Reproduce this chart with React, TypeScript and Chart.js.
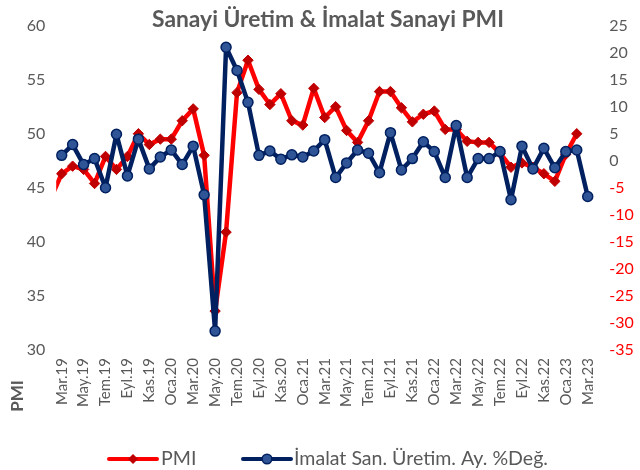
import React, { useEffect, useRef } from 'react';
import { Chart, registerables } from 'chart.js';

Chart.register(...registerables);

// Categories (first one only feeds the clipped PMI stub at the left edge)
const months: string[] = [
  'Şub.19', 'Mar.19', 'Nis.19', 'May.19', 'Haz.19', 'Tem.19', 'Ağu.19', 'Eyl.19', 'Eki.19', 'Kas.19', 'Ara.19',
  'Oca.20', 'Şub.20', 'Mar.20', 'Nis.20', 'May.20', 'Haz.20', 'Tem.20', 'Ağu.20', 'Eyl.20', 'Eki.20', 'Kas.20', 'Ara.20',
  'Oca.21', 'Şub.21', 'Mar.21', 'Nis.21', 'May.21', 'Haz.21', 'Tem.21', 'Ağu.21', 'Eyl.21', 'Eki.21', 'Kas.21', 'Ara.21',
  'Oca.22', 'Şub.22', 'Mar.22', 'Nis.22', 'May.22', 'Haz.22', 'Tem.22', 'Ağu.22', 'Eyl.22', 'Eki.22', 'Kas.22', 'Ara.22',
  'Oca.23', 'Şub.23', 'Mar.23',
];

const pmi: (number | null)[] = [
  44.0,
  46.3, 47.0, 46.7, 45.4, 47.9, 46.7, 47.9, 50.0, 49.0, 49.5,
  49.5, 51.2, 52.3, 48.0, 33.6, 40.9, 53.8, 56.8, 54.1, 52.7, 53.7, 51.2,
  50.8, 54.2, 51.5, 52.5, 50.3, 49.2, 51.2, 53.9, 53.9, 52.4, 51.1, 51.8,
  52.1, 50.4, 50.4, 49.3, 49.2, 49.2, 48.2, 46.9, 47.3, 46.9, 46.3, 45.6,
  48.1, 50.0, null,
];

const ipChange: (number | null)[] = [
  null,
  1.0, 3.0, -0.7, 0.4, -5.0, 4.9, -2.8, 4.0, -1.5, 0.7,
  2.0, -0.7, 2.7, -6.3, -31.5, 21.0, 16.7, 10.8, 1.0, 1.8, 0.3, 1.1,
  0.7, 1.8, 3.9, -3.1, -0.4, 2.0, 1.4, -2.2, 5.2, -1.7, 0.4, 3.5,
  1.7, -3.1, 6.5, -3.1, 0.4, 0.4, 1.7, -7.2, 2.7, -1.5, 2.3, -1.3,
  1.7, 2.0, -6.6,
];

const TITLE = 'Sanayi Üretim & İmalat Sanayi PMI';
const Y_TITLE = 'PMI';
const LEGEND_PMI = 'PMI';
const LEGEND_IP = 'İmalat San. Üretim. Ay. %Değ.';

const FONT = 'Lato';
const GRAY = '#595959';
const RED = '#FF0000';
const DARK_RED = '#C00000';
const NAVY = '#002060';
const MID_BLUE = '#2F5597';

const overlayPlugin = {
  id: 'overlay',
  afterDraw(chart: any) {
    const ctx: CanvasRenderingContext2D = chart.ctx;
    ctx.save();
    ctx.fillStyle = GRAY;
    ctx.textBaseline = 'middle';

    // Title
    ctx.font = `bold 19px ${FONT}`;
    const tw = ctx.measureText(TITLE).width;
    const ts = 19 * 352 / tw;
    ctx.font = `bold ${ts.toFixed(2)}px ${FONT}`;
    ctx.textAlign = 'center';
    ctx.fillText(TITLE, 328, 20);

    // Left axis title
    ctx.save();
    ctx.translate(18, 396);
    ctx.rotate(-Math.PI / 2);
    ctx.font = `bold 17px ${FONT}`;
    ctx.textAlign = 'center';
    ctx.fillText(Y_TITLE, 0, 0);
    ctx.restore();

    // Legend
    const ly = 459;
    ctx.font = `17px ${FONT}`;
    const lw = ctx.measureText(LEGEND_IP).width;
    const ls = 17 * 254 / lw;
    ctx.font = `${ls.toFixed(2)}px ${FONT}`;
    ctx.textAlign = 'left';
    ctx.lineCap = 'round';
    ctx.lineWidth = 4;

    ctx.strokeStyle = RED;
    ctx.beginPath();
    ctx.moveTo(109, ly);
    ctx.lineTo(157, ly);
    ctx.stroke();
    ctx.fillStyle = DARK_RED;
    ctx.beginPath();
    ctx.moveTo(133 - 5, ly);
    ctx.lineTo(133, ly - 5);
    ctx.lineTo(133 + 5, ly);
    ctx.lineTo(133, ly + 5);
    ctx.closePath();
    ctx.fill();
    ctx.fillStyle = GRAY;
    ctx.fillText(LEGEND_PMI, 161, ly);

    ctx.strokeStyle = NAVY;
    ctx.beginPath();
    ctx.moveTo(243, ly);
    ctx.lineTo(291, ly);
    ctx.stroke();
    ctx.beginPath();
    ctx.arc(267, ly, 4.8, 0, Math.PI * 2);
    ctx.fillStyle = MID_BLUE;
    ctx.fill();
    ctx.lineWidth = 1.5;
    ctx.stroke();
    ctx.fillStyle = GRAY;
    ctx.fillText(LEGEND_IP, 294, ly);

    ctx.restore();
  },
};

export default function App() {
  const canvasRef = useRef<HTMLCanvasElement | null>(null);

  useEffect(() => {
    if (!canvasRef.current) return;
    Chart.defaults.font.family = FONT;
    const chart = new Chart(canvasRef.current, {
      type: 'line',
      data: {
        labels: months,
        datasets: [
          {
            label: LEGEND_PMI,
            data: pmi,
            yAxisID: 'y',
            order: 1,
            borderColor: RED,
            borderWidth: 4.5,
            borderJoinStyle: 'round',
            borderCapStyle: 'round',
            pointStyle: 'rectRot',
            pointRadius: (c: any) => (c.dataIndex === 0 ? 0 : 5.2),
            pointBackgroundColor: DARK_RED,
            pointBorderColor: DARK_RED,
            pointBorderWidth: 1,
            tension: 0,
            clip: { left: 0, right: 10, top: 10, bottom: 10 } as any,
          },
          {
            label: LEGEND_IP,
            data: ipChange,
            yAxisID: 'y1',
            order: 0,
            borderColor: NAVY,
            borderWidth: 4.5,
            borderJoinStyle: 'round',
            borderCapStyle: 'round',
            pointStyle: 'circle',
            pointRadius: 5,
            pointBackgroundColor: MID_BLUE,
            pointBorderColor: NAVY,
            pointBorderWidth: 1.5,
            tension: 0,
          },
        ],
      },
      options: {
        responsive: false,
        animation: false,
        devicePixelRatio: 1,
        layout: { padding: { top: 20, left: 0, right: 0, bottom: 0 } },
        plugins: {
          legend: { display: false },
          title: { display: false },
          tooltip: { enabled: false },
        },
        scales: {
          x: {
            type: 'category',
            min: 'Mar.19',
            offset: true,
            grid: { display: false, drawTicks: false },
            border: { display: false },
            ticks: {
              autoSkip: false,
              maxRotation: 90,
              minRotation: 90,
              padding: 8,
              color: GRAY,
              font: { size: 15, family: FONT },
              callback: (value: any) => (Number(value) % 2 === 1 ? months[Number(value)] : ''),
            },
            afterFit: (s: any) => { s.height = 120; },
          },
          y: {
            position: 'left',
            min: 30,
            max: 60,
            grid: { display: false, drawTicks: false },
            border: { display: false },
            ticks: {
              stepSize: 5,
              padding: 11,
              color: GRAY,
              font: { size: 16, family: FONT },
            },
            afterFit: (s: any) => { s.width = 56.2; },
          },
          y1: {
            position: 'right',
            min: -35,
            max: 25,
            grid: { display: false, drawTicks: false },
            border: { display: false },
            ticks: {
              stepSize: 5,
              padding: 16,
              color: (c: any) => (c.tick && c.tick.value < 0 ? RED : GRAY),
              font: { size: 16, family: FONT },
            },
            afterFit: (s: any) => { s.width = 640 - 593.2; },
          },
        },
      } as any,
      plugins: [overlayPlugin],
    });
    return () => chart.destroy();
  }, []);

  return (
    <div style={{ position: 'absolute', left: 0, top: 0, width: 640, height: 470, background: '#fff' }}>
      <canvas ref={canvasRef} width={640} height={470} style={{ width: 640, height: 470, display: 'block' }} />
    </div>
  );
}
